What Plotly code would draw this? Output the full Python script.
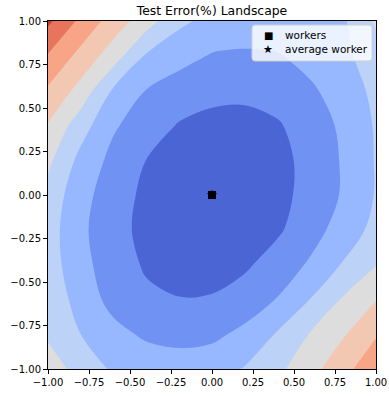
import plotly.graph_objects as go

# Sampling grid of the loss landscape (model-space coordinates)
grid_x = [-1.0, -0.8, -0.6, -0.4, -0.2, 0.0, 0.2, 0.4, 0.6, 0.8, 1.0]
grid_y = [-1.0, -0.8, -0.6, -0.4, -0.2, 0.0, 0.2, 0.4, 0.6, 0.8, 1.0]

# Test error (%) on the grid, one row per grid_y value
test_error = [
    [45.0, 36.3, 28.5, 26.0, 24.5, 26.0, 30.7, 37.7, 46.6, 56.6, 67.5],
    [38.5, 30.0, 23.0, 18.4, 17.0, 17.8, 22.5, 31.0, 40.6, 49.0, 59.0],
    [37.2, 25.8, 16.7, 12.0, 10.3, 10.7, 14.3, 20.5, 30.2, 41.0, 49.5],
    [35.0, 23.0, 14.9, 8.8, 6.6, 6.4, 8.5, 14.3, 21.3, 30.8, 39.5],
    [34.5, 22.0, 13.5, 7.2, 3.9, 3.0, 4.6, 8.6, 16.0, 24.3, 33.0],
    [36.5, 23.4, 14.6, 7.8, 4.0, 2.7, 3.7, 7.1, 13.3, 21.0, 30.7],
    [42.3, 27.0, 17.1, 9.9, 5.5, 3.5, 4.0, 7.0, 13.1, 21.0, 30.7],
    [49.3, 34.4, 21.2, 14.8, 9.3, 7.2, 6.8, 9.0, 14.9, 21.8, 31.0],
    [58.5, 46.5, 28.6, 19.7, 15.4, 12.7, 12.3, 14.5, 18.5, 24.5, 32.5],
    [69.2, 56.9, 44.9, 28.8, 23.4, 19.3, 18.5, 19.3, 23.3, 27.7, 35.0],
    [82.0, 67.7, 55.3, 44.5, 32.1, 27.0, 26.0, 26.0, 27.0, 28.5, 41.5],
]

# Contour levels and the coolwarm colour of each filled band
level_start = 10
level_end = 80
level_step = 10
band_colors = [
    "#4b65d4", "#7092f3", "#97b8ff", "#bcd2f7", "#dddddd",
    "#f3c8b2", "#f7a586", "#e7755c", "#c93936",
]

# Worker positions and their average
workers_x = [0.0]
workers_y = [0.0]
average_x = [0.0]
average_y = [0.0]

tick_vals = [-1.0, -0.75, -0.5, -0.25, 0.0, 0.25, 0.5, 0.75, 1.0]

# Legend entries: (glyph, glyph size, label)
legend_entries = [("■", 10, "workers"), ("★", 11, "average worker")]

n_bands = len(band_colors)
colorscale = [[i / (n_bands - 1), c] for i, c in enumerate(band_colors)]

fig = go.Figure()

fig.add_trace(go.Contour(
    x=grid_x,
    y=grid_y,
    z=test_error,
    colorscale=colorscale,
    contours=dict(start=level_start, end=level_end, size=level_step,
                  coloring="fill", showlines=False),
    line=dict(width=0),
    showscale=False,
    hoverinfo="skip",
    showlegend=False,
))

# the average is drawn first so the worker square sits on top of it
fig.add_trace(go.Scatter(
    x=average_x, y=average_y, mode="markers", name="average worker",
    marker=dict(symbol="star", size=8, color="black"),
    showlegend=False,
))

fig.add_trace(go.Scatter(
    x=workers_x, y=workers_y, mode="markers", name="workers",
    marker=dict(symbol="square", size=8, color="black"),
    showlegend=False,
))

axis_common = dict(
    range=[-1, 1],
    tickvals=tick_vals,
    tickformat=".2f",
    ticks="outside",
    ticklen=4,
    tickwidth=1,
    tickcolor="black",
    showline=True,
    linecolor="black",
    linewidth=1,
    mirror=True,
    showgrid=False,
    zeroline=False,
    automargin=False,
    tickfont=dict(family="DejaVu Sans", size=10, color="black"),
)

# Plot-area size in pixels (figure size minus margins)
fig_w, fig_h = 389, 396
m_l, m_r, m_t, m_b = 48, 13, 21, 27
area_w = fig_w - m_l - m_r
area_h = fig_h - m_t - m_b

# Legend box (upper right), rounded corners, in plot-area fractions
box_x0, box_x1 = 1 - 124 / area_w, 1 - 4 / area_w
box_y1, box_y0 = 1 - 4 / area_h, 1 - 40 / area_h
rx, ry = 3 / area_w, 3 / area_h
box_path = (
    f"M {box_x0 + rx},{box_y1} L {box_x1 - rx},{box_y1} "
    f"Q {box_x1},{box_y1} {box_x1},{box_y1 - ry} "
    f"L {box_x1},{box_y0 + ry} Q {box_x1},{box_y0} {box_x1 - rx},{box_y0} "
    f"L {box_x0 + rx},{box_y0} Q {box_x0},{box_y0} {box_x0},{box_y0 + ry} "
    f"L {box_x0},{box_y1 - ry} Q {box_x0},{box_y1} {box_x0 + rx},{box_y1} Z"
)

shapes = [dict(
    type="path", path=box_path, xref="paper", yref="paper",
    fillcolor="rgba(255,255,255,0.8)",
    line=dict(color="#d0d0d0", width=1),
    layer="above",
)]

annotations = []
for i, (glyph, gsize, label) in enumerate(legend_entries):
    yc = 1 - (14 + 14 * i) / area_h
    annotations.append(dict(
        x=box_x0 + 16 / area_w, y=yc, xref="paper", yref="paper",
        text=glyph, showarrow=False, xanchor="center", yanchor="middle",
        font=dict(family="DejaVu Sans", size=gsize, color="black"),
    ))
    annotations.append(dict(
        x=box_x0 + 31 / area_w, y=yc, xref="paper", yref="paper",
        text=label, showarrow=False, xanchor="left", yanchor="middle",
        font=dict(family="DejaVu Sans", size=10.5, color="black"),
    ))

fig.update_layout(
    width=fig_w,
    height=fig_h,
    autosize=False,
    margin=dict(l=m_l, r=m_r, t=m_t, b=m_b, autoexpand=False),
    paper_bgcolor="white",
    plot_bgcolor="white",
    title=dict(
        text="Test Error(%) Landscape",
        x=0.5, xref="paper", xanchor="center",
        y=1 - 11 / fig_h, yref="container", yanchor="middle",
        font=dict(family="DejaVu Sans", size=12.4, color="black"),
    ),
    xaxis=axis_common,
    yaxis=axis_common,
    shapes=shapes,
    annotations=annotations,
    showlegend=False,
)

fig.write_html("out.html")
